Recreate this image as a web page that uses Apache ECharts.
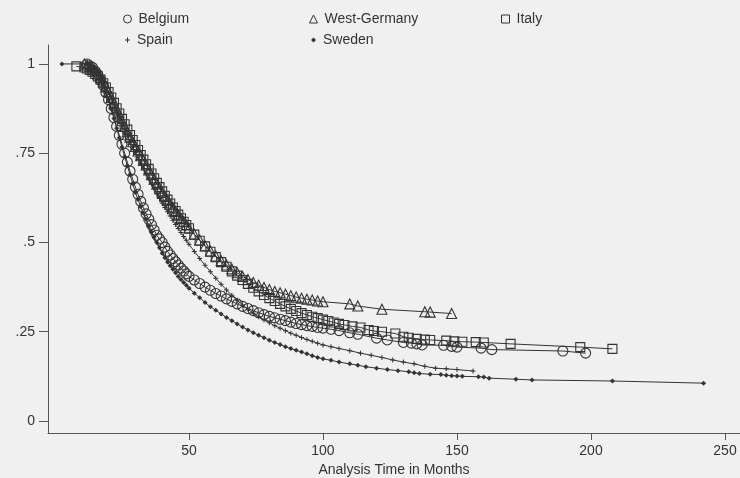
<!DOCTYPE html>
<html><head><meta charset="utf-8">
<script src="https://cdn.jsdelivr.net/npm/echarts@6/dist/echarts.min.js"></script>
<style>html,body{margin:0;padding:0;background:#f0f0f0}#c{width:740px;height:478px}</style>
</head><body><div id="c"></div>
<script>
const xTicks = [50, 100, 150, 200, 250];
const yTicks = [0, 0.25, 0.5, 0.75, 1];
const seriesNames = ['Belgium', 'West-Germany', 'Italy', 'Spain', 'Sweden'];

const belgiumT = [12,13,14,15,16,17,18,19,20,21,22,23,24,25,26,27,28,29,30,31,32,33,34,35,36,37,38,39,40,41,42,43,44,45,46,47,48,49,50,52,54,56,58,60,62,64,66,68,70,72,74,76,78,80,82,84,86,88,90,92,94,96,98,100,103,106,110,113,120,124,130,133,135,137,145,148,150,159,163,189.5,198];
const belgiumS = [1.0,0.995,0.99,0.98,0.97,0.955,0.94,0.92,0.9,0.875,0.85,0.825,0.8,0.775,0.75,0.725,0.7,0.677,0.655,0.635,0.615,0.597,0.58,0.565,0.55,0.535,0.52,0.51,0.5,0.487,0.475,0.465,0.455,0.446,0.437,0.428,0.42,0.412,0.405,0.395,0.385,0.375,0.366,0.357,0.35,0.342,0.335,0.328,0.321,0.315,0.309,0.303,0.298,0.293,0.289,0.285,0.281,0.277,0.273,0.27,0.267,0.265,0.262,0.26,0.257,0.253,0.247,0.243,0.232,0.227,0.22,0.218,0.216,0.213,0.212,0.209,0.207,0.204,0.2,0.196,0.19];

const germanyT = [11,12,13,14,15,16,17,18,19,20,21,22,23,24,25,26,27,28,29,30,31,32,33,34,35,36,37,38,39,40,41,42,43,44,45,46,47,48,49,50,52,54,56,58,60,62,64,66,68,70,72,74,76,78,80,82,84,86,88,90,92,94,96,98,100,110,113,122,138,140,148];
const germanyS = [1.0,0.997,0.993,0.988,0.98,0.972,0.962,0.95,0.936,0.922,0.906,0.89,0.873,0.857,0.841,0.825,0.81,0.795,0.782,0.769,0.756,0.743,0.73,0.717,0.703,0.69,0.677,0.664,0.652,0.64,0.629,0.618,0.607,0.597,0.587,0.577,0.567,0.558,0.549,0.54,0.523,0.507,0.491,0.476,0.462,0.449,0.437,0.426,0.415,0.405,0.396,0.388,0.38,0.374,0.368,0.363,0.359,0.355,0.351,0.347,0.344,0.341,0.339,0.336,0.334,0.328,0.322,0.313,0.306,0.305,0.301];

const italyT = [8,11,12,13,14,15,16,17,18,19,20,21,22,23,24,25,26,27,28,29,30,31,32,33,34,35,36,37,38,39,40,41,42,43,44,45,46,47,48,49,50,52,54,56,58,60,62,64,66,68,70,72,74,76,78,80,82,84,86,88,90,92,94,96,98,100,102,104,106,108,111,114,117,119,122,127,130,132,135,138,140,146,149,152,157,160,170,196,208];
const italyS = [0.993,0.99,0.987,0.983,0.978,0.972,0.965,0.956,0.946,0.934,0.921,0.906,0.891,0.876,0.861,0.846,0.831,0.816,0.801,0.787,0.773,0.759,0.745,0.732,0.719,0.706,0.693,0.68,0.667,0.655,0.643,0.631,0.62,0.609,0.598,0.588,0.578,0.568,0.558,0.549,0.54,0.522,0.505,0.489,0.474,0.459,0.445,0.432,0.419,0.407,0.395,0.384,0.373,0.363,0.353,0.344,0.336,0.328,0.321,0.314,0.308,0.302,0.297,0.292,0.288,0.284,0.28,0.276,0.272,0.269,0.265,0.262,0.255,0.252,0.25,0.245,0.236,0.233,0.23,0.228,0.227,0.225,0.223,0.222,0.221,0.22,0.216,0.207,0.202];

const spainT = [12,13,14,15,16,17,18,19,20,21,22,23,24,25,26,27,28,29,30,31,32,33,34,35,36,37,38,39,40,41,42,43,44,45,46,47,48,49,50,52,54,56,58,60,62,64,66,68,70,72,74,76,78,80,82,84,86,88,90,92,94,96,98,100,103,106,110,114,118,122,126,130,134,138,142,146,150,156];
const spainS = [1.0,0.995,0.99,0.985,0.975,0.965,0.95,0.935,0.92,0.903,0.886,0.869,0.852,0.835,0.818,0.8,0.783,0.767,0.752,0.737,0.722,0.707,0.692,0.678,0.664,0.65,0.636,0.623,0.61,0.598,0.586,0.574,0.562,0.55,0.539,0.528,0.517,0.506,0.495,0.475,0.455,0.436,0.418,0.4,0.383,0.367,0.352,0.338,0.325,0.313,0.302,0.292,0.283,0.275,0.267,0.26,0.253,0.246,0.24,0.234,0.228,0.223,0.218,0.213,0.208,0.203,0.197,0.19,0.184,0.178,0.171,0.165,0.16,0.153,0.148,0.146,0.144,0.14];

const swedenT = [2.6,12,13,14,15,16,17,18,19,20,21,22,23,24,25,26,27,28,29,30,31,32,33,34,35,36,37,38,39,40,41,42,43,44,45,46,47,48,49,50,52,54,56,58,60,62,64,66,68,70,72,74,76,78,80,82,84,86,88,90,92,94,96,98,100,103,106,110,113,116,120,124,128,132,134,136,140,144,146,148,150,152,158,160,162,172,178,208,242];
const swedenS = [1.0,1.0,0.995,0.99,0.98,0.97,0.955,0.94,0.92,0.9,0.873,0.847,0.82,0.793,0.767,0.74,0.715,0.69,0.665,0.64,0.62,0.6,0.582,0.565,0.547,0.53,0.515,0.5,0.485,0.47,0.457,0.445,0.435,0.425,0.415,0.405,0.396,0.388,0.38,0.372,0.358,0.345,0.332,0.32,0.31,0.3,0.29,0.281,0.272,0.263,0.255,0.247,0.24,0.233,0.226,0.22,0.214,0.208,0.203,0.198,0.193,0.188,0.183,0.178,0.174,0.17,0.165,0.16,0.156,0.152,0.148,0.144,0.141,0.138,0.135,0.133,0.131,0.13,0.128,0.127,0.126,0.125,0.124,0.123,0.12,0.117,0.115,0.112,0.106];

function zip(t, s) { return t.map((v, i) => [v, s[i]]); }

const INK = '#333333';
const FONT = '"Liberation Sans", Arial, sans-serif';
const plusPath = 'path://M4,0H6V4H10V6H6V10H4V6H0V4H4Z';

function mk(name, t, s, symbol, size, filled) {
  return {
    name: name, type: 'line', data: zip(t, s),
    symbol: symbol, symbolSize: size, showSymbol: true,
    lineStyle: { color: INK, width: 1 },
    itemStyle: filled ? { color: INK, borderWidth: 0 } : { color: 'rgba(0,0,0,0)', borderColor: INK, borderWidth: 1.1 },
    emphasis: { disabled: true }, animation: false
  };
}

const legendPos = [
  { name: 'Belgium', left: 118, top: 7, icon: 'circle', filled: false, size: 8 },
  { name: 'West-Germany', left: 304, top: 7, icon: 'triangle', filled: false, size: 8 },
  { name: 'Italy', left: 496, top: 7, icon: 'rect', filled: false, size: 8 },
  { name: 'Spain', left: 120, top: 28, icon: plusPath, filled: true, size: 5 },
  { name: 'Sweden', left: 306, top: 28, icon: 'diamond', filled: true, size: 5 }
];

const chart = echarts.init(document.getElementById('c'), null, { renderer: 'canvas' });
chart.setOption({
  backgroundColor: '#f0f0f0',
  animation: false,
  legend: legendPos.map(l => ({
    data: [l.name], left: l.left, top: l.top, icon: l.icon,
    itemWidth: l.size, itemHeight: l.size, itemGap: 0,
    textStyle: { fontFamily: FONT, fontSize: 14, color: '#333', padding: [0, 0, 0, 2] },
    itemStyle: l.filled ? { color: INK, borderWidth: 0 } : { color: 'rgba(0,0,0,0)', borderColor: INK, borderWidth: 1 },
    selectedMode: false
  })),
  grid: { left: 48, right: 0, top: 45, bottom: 45, containLabel: false, outerBoundsMode: 'none' },
  xAxis: {
    type: 'value', min: -2.6, max: 255.6,
    name: 'Analysis Time in Months', nameLocation: 'middle', nameGap: 26,
    nameTextStyle: { fontFamily: FONT, fontSize: 14, color: '#333' },
    axisLine: { onZero: false, lineStyle: { color: '#555', width: 1 } },
    axisTick: { show: true, length: 7, customValues: xTicks, lineStyle: { color: '#555' } },
    axisLabel: { customValues: xTicks, margin: 11, fontFamily: FONT, fontSize: 14, color: '#333' },
    splitLine: { show: false }
  },
  yAxis: {
    type: 'value', min: -0.0336, max: 1.053,
    axisLine: { show: true, onZero: false, lineStyle: { color: '#555', width: 1 } },
    axisTick: { show: true, length: 9, customValues: yTicks, lineStyle: { color: '#555' } },
    axisLabel: {
      customValues: yTicks, margin: 13, fontFamily: FONT, fontSize: 14, color: '#333',
      formatter: v => (v === 0 ? '0' : v === 1 ? '1' : String(v).replace(/^0/, ''))
    },
    splitLine: { show: false }
  },
  series: [
    mk('Belgium', belgiumT, belgiumS, 'circle', 10, false),
    mk('West-Germany', germanyT, germanyS, 'triangle', 10, false),
    mk('Italy', italyT, italyS, 'rect', 9, false),
    mk('Spain', spainT, spainS, plusPath, 5, true),
    mk('Sweden', swedenT, swedenS, 'diamond', 5, true)
  ]
});
</script></body></html>
